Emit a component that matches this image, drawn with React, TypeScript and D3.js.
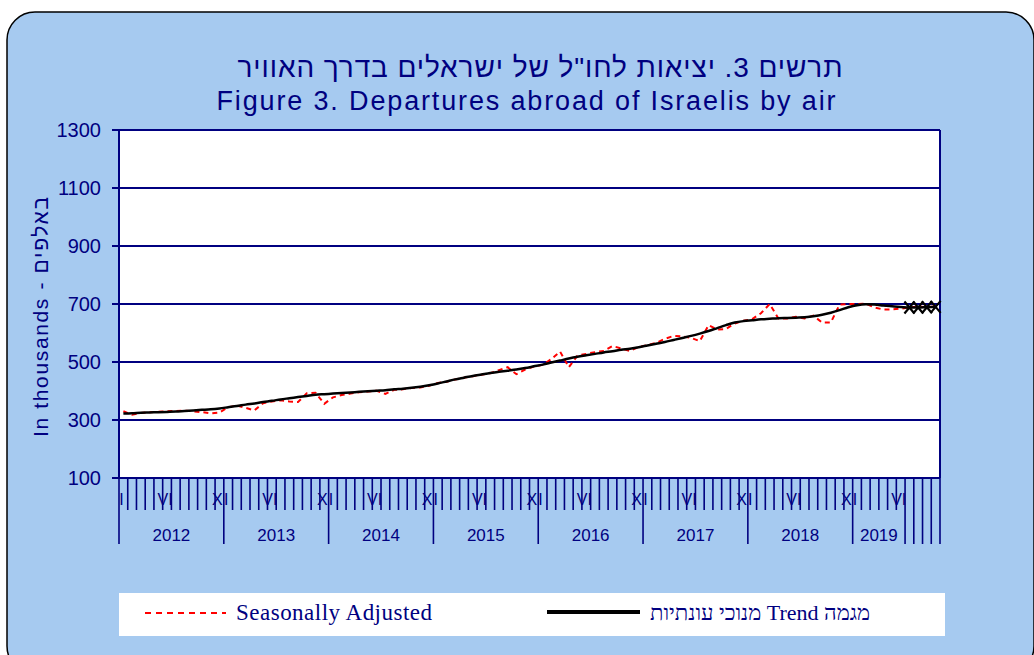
import React, { useEffect, useRef } from "react";
import * as d3 from "d3";

// categories
const years = ["2012", "2013", "2014", "2015", "2016", "2017", "2018", "2019"];
const monthsPerYear = [12, 12, 12, 12, 12, 12, 12, 6];
const monthLabels = ["I", "", "", "", "", "VI", "", "", "", "", "", "X"];
const extraSlots = ["e1", "e2", "e3", "e4"];

// values, thousands
const seasonallyAdjusted = [
  330, 318, 324, 327, 328, 330, 331, 332, 330, 327, 323, 326,
  344, 350, 342, 333, 358, 364, 368, 364, 362, 392, 394, 356,
  378, 386, 391, 396, 398, 401, 390, 404, 406, 410, 412, 418,
  428, 432, 440, 446, 451, 456, 461, 472, 482, 458, 474, 484,
  490, 510, 536, 482, 522, 528, 534, 538, 555, 547, 538, 552,
  558, 566, 580, 590, 588, 583, 572, 627, 612, 614, 633, 642,
  648, 668, 700, 650, 650, 656, 650, 660, 636, 636, 698, 700,
  700, 701, 688, 681, 681, 684,
  688, 691, 689, 692,
];

const trend = [
  322, 323, 325, 326, 327, 328, 329, 331, 333, 335, 337, 340,
  344, 348, 353, 357, 362, 366, 371, 375, 379, 383, 387, 389,
  391, 393, 395, 397, 399, 401, 403, 406, 408, 411, 415, 420,
  426, 433, 440, 446, 452, 457, 462, 466, 470, 474, 479, 485,
  491, 498, 505, 512, 518, 523, 528, 533, 537, 542, 546, 551,
  557, 563, 569, 576, 583, 590, 598, 607, 617, 627, 636, 641,
  644, 647, 649, 651, 652, 653, 654, 658, 663, 670, 679, 689,
  696, 699, 698, 695, 692, 690,
  688, 688, 689, 690,
];

const yTicks = [100, 300, 500, 700, 900, 1100, 1300];

const navy = "#000080";
const sans = "Arial, 'Liberation Sans', sans-serif";
const serif = "'Times New Roman', 'Liberation Serif', serif";

const App = () => {
  const svgRef = useRef(null);

  useEffect(() => {
    const svg = d3.select(svgRef.current);
    svg.selectAll("*").remove();

    // category list
    const cats: string[] = [];
    const yearStart: number[] = [];
    years.forEach((y, yi) => {
      yearStart.push(cats.length);
      for (let m = 0; m < monthsPerYear[yi]; m++) cats.push(`${y}-${m}`);
    });
    const labelledCount = cats.length;
    extraSlots.forEach((e) => cats.push(e));
    const monthOf = (i: number) => i - yearStart[yearStart.filter((s) => s <= i).length - 1];

    const left = 119, right = 940, top = 130, bottom = 478;

    const x = d3.scaleBand().domain(cats).range([left, right]).padding(0);
    const y = d3.scaleLinear().domain([100, 1300]).range([bottom, top]);
    const bw = x.bandwidth();
    const cx = (i: number) => (x(cats[i]) as number) + bw / 2;

    // panel
    svg.append("rect").attr("width", 1034).attr("height", 655).attr("fill", "#fff");
    svg
      .append("rect")
      .attr("x", 7)
      .attr("y", 12)
      .attr("width", 1027)
      .attr("height", 662)
      .attr("rx", 28)
      .attr("fill", "#A6CAF0")
      .attr("stroke", "#000")
      .attr("stroke-width", 1.5);

    // titles
    svg
      .append("text")
      .attr("x", 540)
      .attr("y", 77)
      .attr("text-anchor", "middle")
      .attr("direction", "rtl")
      .attr("font-family", sans)
      .attr("font-size", 28)
      .attr("fill", navy)
      .attr("textLength", 605)
      .attr("lengthAdjust", "spacing")
      .text('תרשים 3. יציאות לחו"ל של ישראלים  בדרך האוויר');

    svg
      .append("text")
      .attr("x", 526)
      .attr("y", 110)
      .attr("text-anchor", "middle")
      .attr("font-family", sans)
      .attr("font-size", 27)
      .attr("fill", navy)
      .attr("textLength", 619)
      .attr("lengthAdjust", "spacing")
      .text("Figure 3. Departures abroad of Israelis by air");

    // plot area
    svg
      .append("rect")
      .attr("x", left)
      .attr("y", top)
      .attr("width", right - left)
      .attr("height", bottom - top)
      .attr("fill", "#fff");

    const g = svg.append("g").attr("stroke", navy);

    g.selectAll(".grid")
      .data(yTicks)
      .enter()
      .append("line")
      .attr("x1", left - 7)
      .attr("x2", right)
      .attr("y1", (d) => y(d))
      .attr("y2", (d) => y(d))
      .attr("stroke-width", 2);

    g.append("line").attr("x1", left).attr("x2", left).attr("y1", top).attr("y2", bottom).attr("stroke-width", 2);
    g.append("line").attr("x1", right).attr("x2", right).attr("y1", top).attr("y2", bottom).attr("stroke-width", 2);

    svg
      .append("g")
      .selectAll("text")
      .data(yTicks)
      .enter()
      .append("text")
      .attr("x", 101)
      .attr("y", (d) => y(d))
      .attr("dy", "0.36em")
      .attr("text-anchor", "end")
      .attr("font-family", sans)
      .attr("font-size", 20)
      .attr("fill", navy)
      .text((d) => d);

    svg
      .append("text")
      .attr("transform", "translate(48,317) rotate(-90)")
      .attr("text-anchor", "middle")
      .attr("font-family", sans)
      .attr("font-size", 21)
      .attr("fill", navy)
      .attr("textLength", 240)
      .text("In thousands - באלפים");

    // x axis ticks
    const tickIdx = d3.range(cats.length + 1);
    g.selectAll(".xt")
      .data(tickIdx)
      .enter()
      .append("line")
      .attr("x1", (k) => left + k * bw)
      .attr("x2", (k) => left + k * bw)
      .attr("y1", bottom)
      .attr("y2", (k) => (yearStart.includes(k) || k >= labelledCount ? 544 : 510))
      .attr("stroke-width", 1.6);

    const monthIdx = d3.range(labelledCount).filter((i) => monthLabels[monthOf(i)] !== "");
    svg
      .append("g")
      .selectAll("text")
      .data(monthIdx)
      .enter()
      .append("text")
      .attr("x", (i) => cx(i) - 2)
      .attr("y", 505)
      .attr("text-anchor", "middle")
      .attr("font-family", sans)
      .attr("font-size", 16)
      .attr("fill", navy)
      .text((i) => monthLabels[monthOf(i)]);

    svg
      .append("g")
      .selectAll("text")
      .data(years)
      .enter()
      .append("text")
      .attr("x", (_, yi) => left + (yearStart[yi] + monthsPerYear[yi] / 2) * bw)
      .attr("y", 541)
      .attr("text-anchor", "middle")
      .attr("font-family", sans)
      .attr("font-size", 17)
      .attr("fill", navy)
      .text((d) => d);

    // series
    const line = d3
      .line<number>()
      .x((_, i) => cx(i))
      .y((d) => y(d));

    svg
      .append("path")
      .datum(seasonallyAdjusted)
      .attr("d", line)
      .attr("fill", "none")
      .attr("stroke", "#FF0000")
      .attr("stroke-width", 2)
      .attr("stroke-dasharray", "5,4");

    svg
      .append("path")
      .datum(trend)
      .attr("d", line.curve(d3.curveMonotoneX))
      .attr("fill", "none")
      .attr("stroke", "#000")
      .attr("stroke-width", 2.5);

    const markIdx = d3.range(labelledCount, trend.length);
    svg
      .append("g")
      .selectAll("path")
      .data(markIdx)
      .enter()
      .append("path")
      .attr("transform", (i) => `translate(${cx(i)},${y(trend[i])})`)
      .attr("d", "M-5,-6L5,6M-5,6L5,-6")
      .attr("stroke", "#000")
      .attr("stroke-width", 2.2)
      .attr("fill", "none");

    // legend
    const lg = svg.append("g");
    lg.append("rect").attr("x", 119).attr("y", 593).attr("width", 826).attr("height", 43).attr("fill", "#fff");
    lg.append("line")
      .attr("x1", 145).attr("x2", 226).attr("y1", 613).attr("y2", 613)
      .attr("stroke", "#FF0000").attr("stroke-width", 2).attr("stroke-dasharray", "6,5");
    lg.append("text")
      .attr("x", 236).attr("y", 620)
      .attr("font-family", serif)
      .attr("font-size", 23).attr("fill", navy)
      .attr("textLength", 196)
      .attr("lengthAdjust", "spacing")
      .text("Seasonally  Adjusted");
    lg.append("line")
      .attr("x1", 547).attr("x2", 640).attr("y1", 612).attr("y2", 612)
      .attr("stroke", "#000").attr("stroke-width", 4);
    lg.append("text")
      .attr("x", 870).attr("y", 620)
      .attr("direction", "rtl")
      .attr("text-anchor", "start")
      .attr("font-family", serif)
      .attr("font-size", 22).attr("fill", navy)
      .attr("textLength", 220)
      .attr("lengthAdjust", "spacing")
      .text("מגמה  Trend מנוכי עונתיות");
  }, []);

  return (
    <svg
      ref={svgRef}
      width={1034}
      height={655}
      style={{ position: "absolute", left: 0, top: 0, display: "block" }}
    ></svg>
  );
};

export default App;
